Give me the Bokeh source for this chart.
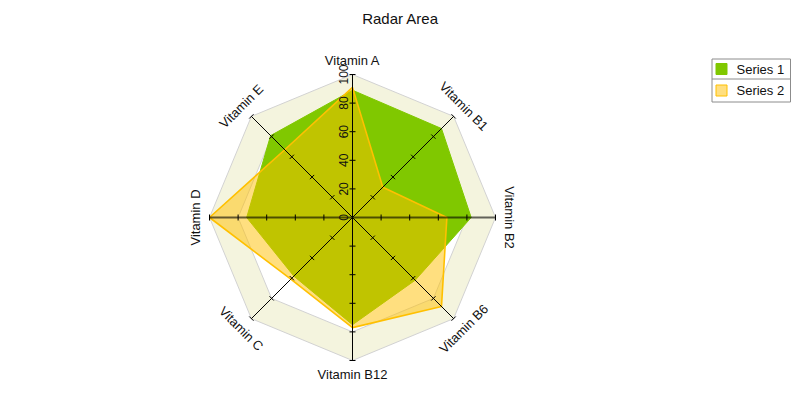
import numpy as np
from bokeh.plotting import figure
from bokeh.models import Range1d
from bokeh.embed import file_html
from bokeh.resources import INLINE
from bokeh.core.properties import value

# ---------------- data ----------------
title_text = "Radar Area"
categories = ["Vitamin A", "Vitamin B1", "Vitamin B2", "Vitamin B6",
              "Vitamin B12", "Vitamin C", "Vitamin D", "Vitamin E"]
series1 = [89, 88, 83, 62, 75, 58, 74, 81]
series2 = [91, 30, 66, 88, 77, 61, 100, 67]
series_names = ["Series 1", "Series 2"]
tick_values = [0, 20, 40, 60, 80, 100]
tick_labels = ["0", "20", "40", "60", "80", "100"]
band_range = [80, 100]

# ---------------- layout ----------------
W, H = 792, 394
OX, OY = 0, 0              # canvas origin in window pixels (as rendered)
CX, CY = 352, 217          # centre in window pixels
S = 1.43                   # pixels per unit of value
FONT = value("Liberation Sans")

def dx(sx):
    return (sx - CX) / S

def dy(sy):
    return (CY - sy) / S

p = figure(width=W, height=H, output_backend="svg", toolbar_location=None,
           x_range=Range1d(dx(OX), dx(OX + W)), y_range=Range1d(dy(OY + H), dy(OY)),
           x_axis_type=None, y_axis_type=None, min_border=0,
           outline_line_color=None, background_fill_color="white")
p.grid.visible = False

n = len(categories)
theta = np.pi / 2 - np.arange(n) * 2 * np.pi / n
cos_t, sin_t = np.cos(theta), np.sin(theta)

def polar(vals):
    v = np.asarray(vals, dtype=float)
    return list(v * cos_t), list(v * sin_t)

# background band 80..100
ox, oy = polar([band_range[1]] * n)
ix, iy = polar([band_range[0]] * n)
p.patch(ox, oy, fill_color="#f4f4de", line_color="#d2d2d2", line_width=1)
p.patch(ix, iy, fill_color="white", line_color="#d2d2d2", line_width=1)

# series 1 (opaque green)
x1, y1 = polar(series1)
p.patch(x1, y1, fill_color="#80c800", fill_alpha=1.0, line_color="#80c800", line_width=1)

# series 2 (semi-transparent orange)
x2, y2 = polar(series2)
p.patch(x2, y2, fill_color="#ffc000", fill_alpha=0.5, line_color="#ffc000", line_width=1.6)

# axes
for i in range(n):
    horiz = abs(sin_t[i]) < 1e-9
    p.line([0, 100 * cos_t[i]], [0, 100 * sin_t[i]],
           line_color="black", line_alpha=0.6 if horiz else 1.0,
           line_width=2 if horiz else 1)

# tick marks
half = 3.0 / S
sx0, sy0, sx1, sy1 = [], [], [], []
for i in range(n):
    px_, py_ = -sin_t[i], cos_t[i]
    for v in tick_values[1:]:
        cx_, cy_ = v * cos_t[i], v * sin_t[i]
        sx0.append(cx_ - half * px_); sy0.append(cy_ - half * py_)
        sx1.append(cx_ + half * px_); sy1.append(cy_ + half * py_)
p.segment(sx0, sy0, sx1, sy1, line_color="black", line_width=1)

# tick labels along the first axis
p.text([dx(CX - 9)] * len(tick_values), tick_values, text=tick_labels,
       angle=np.pi / 2, text_align="center", text_baseline="middle",
       text_font=FONT, text_font_size="12px", text_color="#111111")

# category labels
lab_r = 110
angles = [0, -np.pi / 4, -np.pi / 2, np.pi / 4, 0, -np.pi / 4, np.pi / 2, np.pi / 4]
lx, ly = polar([lab_r] * n)
p.text(lx, ly, text=categories, angle=angles, text_align="center",
       text_baseline="middle", text_font=FONT, text_font_size="13px",
       text_color="#111111")

# title
p.text([dx(400)], [dy(18)], text=[title_text], text_align="center",
       text_baseline="middle", text_font=FONT, text_font_size="15px",
       text_color="#111111")

# legend box
L, R, T, M, B = 711.5, 790, 58.5, 78.5, 101.5
p.quad(left=[dx(L)], right=[dx(R)], top=[dy(T)], bottom=[dy(B)],
       fill_color="white", line_color="#8c8c8c", line_width=1)
p.line([dx(L), dx(R)], [dy(M), dy(M)], line_color="#8c8c8c", line_width=1)
row_c = [(T + M) / 2, (M + B) / 2]
sw = 5.5
legend_fill = ["#80c800", "#ffdf80"]
legend_line = ["#80c800", "#ffc000"]
for k in range(2):
    p.quad(left=[dx(715.5)], right=[dx(715.5 + 2 * sw)],
           top=[dy(row_c[k] - sw)], bottom=[dy(row_c[k] + sw)],
           fill_color=legend_fill[k], line_color=legend_line[k], line_width=1)
p.text([dx(736)] * 2, [dy(c) for c in row_c], text=series_names,
       text_align="left", text_baseline="middle", text_font=FONT,
       text_font_size="13px", text_color="#111111")

open("out.html", "w").write(file_html(p, INLINE))
